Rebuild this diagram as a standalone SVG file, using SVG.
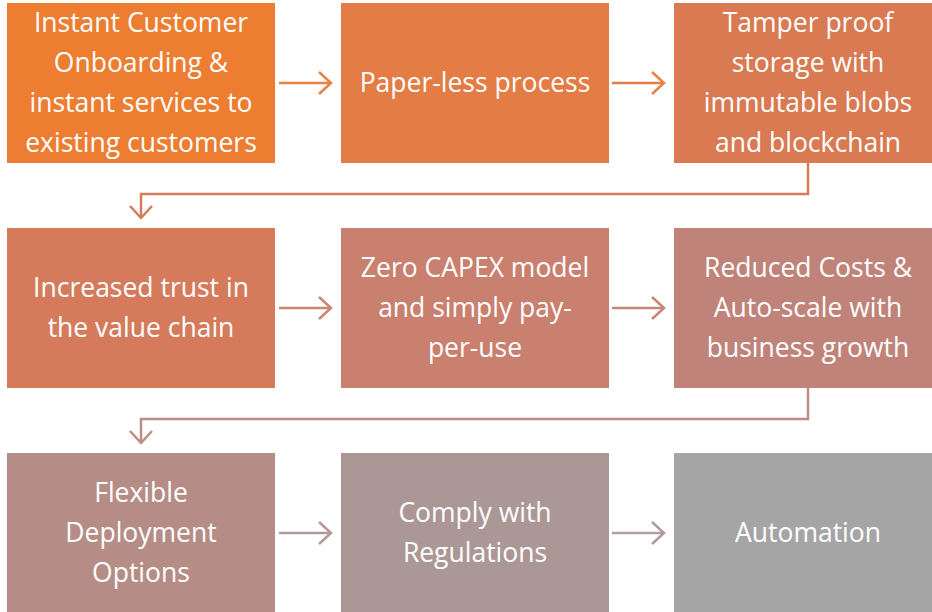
<svg xmlns="http://www.w3.org/2000/svg" width="932" height="612" viewBox="0 0 932 612">
<style>
.lbl{font-family:"Open Sans","Noto Sans","Liberation Sans",sans-serif;font-size:26.5px;fill:#ffffff;text-anchor:middle}
.c{fill:none;stroke-width:2.5}
</style>
<defs>
<marker id="m1" markerUnits="userSpaceOnUse" markerWidth="16" markerHeight="26" refX="13" refY="12" orient="auto"><path d="M1,1 L13,12 L1,23" fill="none" stroke="#EA8046" stroke-width="2.5"/></marker>
<marker id="m2" markerUnits="userSpaceOnUse" markerWidth="16" markerHeight="26" refX="13" refY="12" orient="auto"><path d="M1,1 L13,12 L1,23" fill="none" stroke="#D67C5A" stroke-width="2.5"/></marker>
<marker id="m3" markerUnits="userSpaceOnUse" markerWidth="16" markerHeight="26" refX="13" refY="12" orient="auto"><path d="M1,1 L13,12 L1,23" fill="none" stroke="#CB8573" stroke-width="2.5"/></marker>
<marker id="m4" markerUnits="userSpaceOnUse" markerWidth="16" markerHeight="26" refX="13" refY="12" orient="auto"><path d="M1,1 L13,12 L1,23" fill="none" stroke="#BE8C82" stroke-width="2.5"/></marker>
<marker id="m5" markerUnits="userSpaceOnUse" markerWidth="16" markerHeight="26" refX="13" refY="12" orient="auto"><path d="M1,1 L13,12 L1,23" fill="none" stroke="#B2999A" stroke-width="2.5"/></marker>
</defs>
<rect width="932" height="612" fill="#ffffff"/>
<g id="connectors">
<path class="c" stroke="#EA8046" d="M279,83 H331" marker-end="url(#m1)"/>
<path class="c" stroke="#E27D4E" d="M612,83 H664" marker-end="url(#m1)"/>
<path class="c" stroke="#D67C5A" d="M808,163 V194 H141 V218" marker-end="url(#m2)"/>
<path class="c" stroke="#CB8573" d="M279,308 H331" marker-end="url(#m3)"/>
<path class="c" stroke="#C4877B" d="M612,308 H664" marker-end="url(#m3)"/>
<path class="c" stroke="#BE8C82" d="M808,388 V419 H141 V443" marker-end="url(#m4)"/>
<path class="c" stroke="#B2999A" d="M279,533 H331" marker-end="url(#m5)"/>
<path class="c" stroke="#AEA0A0" d="M612,533 H664" marker-end="url(#m5)"/>
</g>
<g id="n1"><rect x="7" y="3" width="268" height="160" fill="#ED7D31"/>
<text class="lbl" x="141" y="32">Instant Customer</text><text class="lbl" x="141" y="72">Onboarding &amp;</text><text class="lbl" x="141" y="112">instant services to</text><text class="lbl" x="141" y="152">existing customers</text></g>
<g id="n2"><rect x="341" y="3" width="268" height="160" fill="#E47C45"/>
<text class="lbl" x="475" y="92">Paper-less process</text></g>
<g id="n3"><rect x="674" y="3" width="268" height="160" fill="#DA7A52"/>
<text class="lbl" x="808" y="32">Tamper proof</text><text class="lbl" x="808" y="72">storage with</text><text class="lbl" x="808" y="112">immutable blobs</text><text class="lbl" x="808" y="152">and blockchain</text></g>
<g id="n4"><rect x="7" y="228" width="268" height="160" fill="#D57B5B"/>
<text class="lbl" x="141" y="297">Increased trust in</text><text class="lbl" x="141" y="337">the value chain</text></g>
<g id="n5"><rect x="341" y="228" width="268" height="160" fill="#C9806F"/>
<text class="lbl" x="475" y="277">Zero CAPEX model</text><text class="lbl" x="475" y="317">and simply pay-</text><text class="lbl" x="475" y="357">per-use</text></g>
<g id="n6"><rect x="674" y="228" width="268" height="160" fill="#C08379"/>
<text class="lbl" x="808" y="277">Reduced Costs &amp;</text><text class="lbl" x="808" y="317">Auto-scale with</text><text class="lbl" x="808" y="357">business growth</text></g>
<g id="n7"><rect x="7" y="453" width="268" height="160" fill="#B68D86"/>
<text class="lbl" x="141" y="502">Flexible</text><text class="lbl" x="141" y="542">Deployment</text><text class="lbl" x="141" y="582">Options</text></g>
<g id="n8"><rect x="341" y="453" width="268" height="160" fill="#AB9795"/>
<text class="lbl" x="475" y="522">Comply with</text><text class="lbl" x="475" y="562">Regulations</text></g>
<g id="n9"><rect x="674" y="453" width="268" height="160" fill="#A5A5A5"/>
<text class="lbl" x="808" y="542">Automation</text></g>
</svg>
